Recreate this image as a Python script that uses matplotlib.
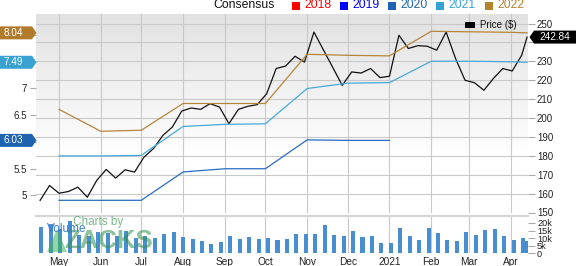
import matplotlib
matplotlib.use('Agg')
import matplotlib.pyplot as plt
import matplotlib.dates as mdates
import numpy as np
import pandas as pd
from matplotlib.patches import Polygon, Rectangle
from matplotlib.transforms import IdentityTransform

plt.rcParams['font.family'] = ['Liberation Sans', 'DejaVu Sans']

# ---------------- data ----------------
price_dates = ['2020-04-17', '2020-04-24', '2020-05-01', '2020-05-08', '2020-05-15', '2020-05-22',
               '2020-05-29', '2020-06-05', '2020-06-12', '2020-06-19', '2020-06-26', '2020-07-03',
               '2020-07-10', '2020-07-17', '2020-07-24', '2020-07-31', '2020-08-07', '2020-08-14',
               '2020-08-21', '2020-08-28', '2020-09-04', '2020-09-11', '2020-09-18', '2020-09-25',
               '2020-10-02', '2020-10-09', '2020-10-16', '2020-10-23', '2020-10-30', '2020-11-06',
               '2020-11-27', '2020-12-04', '2020-12-11', '2020-12-18', '2020-12-25', '2021-01-01',
               '2021-01-08', '2021-01-15', '2021-01-22', '2021-01-29', '2021-02-05', '2021-02-12',
               '2021-02-19', '2021-02-26', '2021-03-05', '2021-03-12', '2021-03-19', '2021-03-26',
               '2021-04-02', '2021-04-09', '2021-04-13']
price_values = [156.4, 164.3, 160.2, 161.1, 163.4, 158.1, 167.0, 172.8, 168.2, 172.6, 171.4, 179.3,
                183.8, 190.8, 195.2, 203.7, 205.3, 204.6, 207.6, 205.8, 197.0, 204.6, 206.2, 207.1,
                212.9, 226.2, 227.5, 232.7, 229.6, 245.5, 217.3, 224.4, 223.8, 226.2, 221.4, 222.1,
                243.8, 236.8, 238.3, 238.0, 235.9, 245.5, 231.5, 220.0, 218.7, 214.7, 220.9, 226.2,
                224.9, 233.2, 242.84]

eps_dates = ['2020-05-01', '2020-06-01', '2020-07-01', '2020-08-01', '2020-09-01', '2020-10-01',
             '2020-11-01', '2020-12-01', '2021-01-01', '2021-02-01', '2021-03-01', '2021-04-01',
             '2021-04-13']
eps_2020 = [4.91, 4.91, 4.91, 5.44, 5.50, 5.50, 6.04, 6.03, 6.03]
eps_2021 = [5.74, 5.74, 5.75, 6.29, 6.33, 6.34, 7.00, 7.10, 7.11, 7.51, 7.51, 7.50, 7.49]
eps_2022 = [6.61, 6.20, 6.22, 6.72, 6.72, 6.72, 7.64, 7.62, 7.61, 8.07, 8.06, 8.05, 8.04]

vol_dates = ['2020-04-18', '2020-04-25', '2020-05-02', '2020-05-09', '2020-05-16', '2020-05-23',
             '2020-05-30', '2020-06-06', '2020-06-13', '2020-06-20', '2020-06-27', '2020-07-04',
             '2020-07-11', '2020-07-18', '2020-07-25', '2020-08-01', '2020-08-08', '2020-08-15',
             '2020-08-22', '2020-08-29', '2020-09-05', '2020-09-12', '2020-09-19', '2020-09-26',
             '2020-10-03', '2020-10-10', '2020-10-17', '2020-10-24', '2020-10-31', '2020-11-07',
             '2020-11-14', '2020-11-21', '2020-11-28', '2020-12-05', '2020-12-12', '2020-12-19',
             '2020-12-26', '2021-01-02', '2021-01-09', '2021-01-16', '2021-01-23', '2021-01-30',
             '2021-02-06', '2021-02-13', '2021-02-20', '2021-02-27', '2021-03-06', '2021-03-13',
             '2021-03-20', '2021-03-27', '2021-04-03', '2021-04-10', '2021-04-13']
vol_values = [17.4, 19.1, 16.0, 21.0, 12.0, 11.3, 14.1, 13.7, 11.3, 15.0, 10.2, 11.3,
              10.4, 12.8, 13.9, 10.9, 9.6, 8.0, 6.1, 7.4, 11.1, 9.3, 10.7, 9.3,
              10.2, 8.5, 9.3, 13.0, 13.0, 12.6, 18.5, 12.2, 11.1, 14.6, 10.9, 11.3,
              6.5, 7.0, 16.5, 11.5, 9.1, 16.5, 13.7, 8.5, 7.8, 14.1, 12.2, 15.2,
              16.3, 11.5, 8.9, 10.0, 8.3]

month_ticks = ['2020-05-01', '2020-06-01', '2020-07-01', '2020-08-01', '2020-09-01', '2020-10-01',
               '2020-11-01', '2020-12-01', '2021-01-01', '2021-02-01', '2021-03-01', '2021-04-01']
month_labels = ['May', 'Jun', 'Jul', 'Aug', 'Sep', 'Oct', 'Nov', 'Dec', '2021', 'Feb', 'Mar', 'Apr']

price_ticks = [150, 160, 170, 180, 190, 200, 210, 220, 230, 240, 250]
price_tick_labels = ['150', '160', '170', '180', '190', '200', '210', '220', '230', '', '250']
eps_ticks = [5, 5.5, 6, 6.5, 7, 7.5, 8]
eps_tick_labels = ['5', '5.5', '', '6.5', '7', '', '']
vol_ticks = [0, 5, 10, 15, 20]
vol_tick_labels = ['0', '5k', '10k', '15k', '20k']

legend_years = ['2018', '2019', '2020', '2021', '2022']
legend_colors = ['#ff0000', '#0000ff', '#1f62b3', '#36a2d6', '#b5822e']
c2020, c2021, c2022 = '#2a6cc0', '#45aadb', '#b8853a'

# ---------------- layout ----------------
W, H = 576, 266
fig = plt.figure(figsize=(W / 100, H / 100), dpi=100)


def fx(px):
    return px / W


def fy(py):
    return 1 - py / H


def D(s):
    return mdates.date2num(pd.to_datetime(s))


x0 = D('2020-05-01') - 17.05
x1 = D('2020-05-01') + 347.7
GRID = '#c9c9c9'

ax = fig.add_axes([fx(36), fy(212.5), fx(528) - fx(36), fy(14.3) - fy(212.5)])
ax2 = ax.twinx()
axv = fig.add_axes([fx(36), fy(253.3), fx(528) - fx(36), fy(216) - fy(253.3)])

# gradient background
n = 256
t = np.linspace(0, 1, n)
g = np.where(t < 0.72, 0.885 + (1 - 0.885) * (t / 0.72), 1.0)
img = np.dstack([g, g, g]).reshape(n, 1, 3)
ax.imshow(img, extent=(0, 1, 0, 1), transform=ax.transAxes, aspect='auto',
          origin='upper', zorder=0)

pd_price = pd.to_datetime(price_dates)
ax.plot(pd_price, price_values, color='#111111', lw=0.9, zorder=3)
ax.set_xlim(x0, x1)
ax.set_ylim(150, 254.9)
ax.set_yticks(price_ticks)
ax.set_yticklabels(price_tick_labels)
ax.yaxis.tick_right()
ax.yaxis.set_label_position('right')
ax.tick_params(axis='y', which='both', left=False, labelleft=False, right=True,
               labelright=True, length=5, color='#aaaaaa', labelsize=7,
               pad=1.5, labelcolor='#222222')
ax.set_xticks([D(m) for m in month_ticks])
ax.set_xticklabels([])
ax.tick_params(axis='x', length=0)
ax.grid(True, color=GRID, lw=0.8)
for s in ax.spines.values():
    s.set_visible(False)

ax2.patch.set_visible(False)
ed = pd.to_datetime(eps_dates)
ax2.plot(ed[:len(eps_2020)], eps_2020, color=c2020, lw=0.9)
ax2.plot(ed, eps_2021, color=c2021, lw=0.9)
ax2.plot(ed, eps_2022, color=c2022, lw=0.9)
ax2.set_ylim(4.682, 8.387)
ax2.set_xlim(x0, x1)
ax2.yaxis.tick_left()
ax2.yaxis.set_label_position('left')
ax2.set_yticks(eps_ticks)
ax2.set_yticklabels(eps_tick_labels)
ax2.tick_params(axis='y', left=True, labelleft=True, right=False, labelright=False,
                length=4, color='#aaaaaa', labelsize=7, pad=2.5, labelcolor='#222222')
for s in ax2.spines.values():
    s.set_visible(False)

# volume
vd = pd.to_datetime(vol_dates)
axv.bar(vd, vol_values, width=3.0, color='#4a8ed2', zorder=2)
axv.set_xlim(x0, x1)
axv.set_ylim(0, 24.6)
axv.yaxis.tick_right()
axv.set_yticks(vol_ticks)
axv.set_yticklabels(vol_tick_labels)
axv.tick_params(axis='y', length=5, color='#aaaaaa', labelsize=6.6, pad=1.5,
                labelcolor='#222222')
axv.set_xticks([D(m) for m in month_ticks])
axv.set_xticklabels(month_labels)
axv.tick_params(axis='x', length=0, labelsize=7.3, pad=3, labelcolor='#222222')
axv.grid(True, axis='x', color=GRID, lw=0.8)
axv.set_axisbelow(True)
for k, s in axv.spines.items():
    s.set_visible(False)
axv.spines['top'].set_visible(True)
axv.spines['top'].set_color('#d6d6d6')
axv.spines['top'].set_linewidth(1.6)

# watermark
I = IdentityTransform()
fig.add_artist(Polygon([(47, H - 252), (57, H - 229), (67, H - 252)], closed=True,
                       transform=I, facecolor='#3db35a', alpha=0.55, edgecolor='none', zorder=4))
fig.text(64, H - 241, 'ZACKS', transform=I, fontsize=18.5, fontweight='bold',
         color='#2f8f4e', alpha=0.55, ha='left', va='center', zorder=4)
fig.text(73, H - 222, 'Charts by', transform=I, fontsize=8.5, color='#4f9f64',
         alpha=0.75, ha='left', va='center', zorder=4)
fig.text(46.5, H - 229, 'Volume', transform=I, fontsize=8.5, color='#3a7fd0',
         ha='left', va='center', zorder=5)

# top legend
fig.text(244, H - 5.5, 'Consensus', transform=I, fontsize=8.8, color='#111111',
         ha='center', va='center')
lx = [292, 340, 388, 436, 485]
for x, yr, c in zip(lx, legend_years, legend_colors):
    fig.add_artist(Rectangle((x, H - 9.5), 8, 8, transform=I, facecolor=c, edgecolor='none'))
    fig.text(x + 12, H - 5.5, yr, transform=I, fontsize=8.8, color=c, ha='left', va='center')

# price legend
fig.add_artist(Rectangle((465, H - 27.5), 9.5, 5.5, transform=I, facecolor='#000000',
                         edgecolor='none', zorder=5))
fig.text(480, H - 25.3, 'Price ($)', transform=I, fontsize=7, color='#111111',
         ha='left', va='center', zorder=5)


# badges
def left_badge(val, color):
    y = ax2.transData.transform((x0, val))[1]
    pts = [(0, y - 6.5), (32, y - 6.5), (36.5, y), (32, y + 6.5), (0, y + 6.5)]
    fig.add_artist(Polygon(pts, closed=True, transform=I, facecolor=color,
                           edgecolor='none', zorder=6))
    fig.text(13.5, y, f'{val:.2f}', transform=I, fontsize=7.2, color='white',
             ha='center', va='center', zorder=7)


left_badge(eps_2022[-1], '#b07c2c')
left_badge(eps_2021[-1], '#39a2d3')
left_badge(eps_2020[-1], '#1e62b0')

yp = ax.transData.transform((x0, price_values[-1]))[1]
pts = [(529.5, yp), (534, yp - 6.5), (576, yp - 6.5), (576, yp + 6.5), (534, yp + 6.5)]
fig.add_artist(Polygon(pts, closed=True, transform=I, facecolor='#000000',
                       edgecolor='none', zorder=6))
fig.text(555, yp, f'{price_values[-1]:.2f}', transform=I, fontsize=7.2, color='white',
         ha='center', va='center', zorder=7)

fig.savefig('out.png', dpi=100)
